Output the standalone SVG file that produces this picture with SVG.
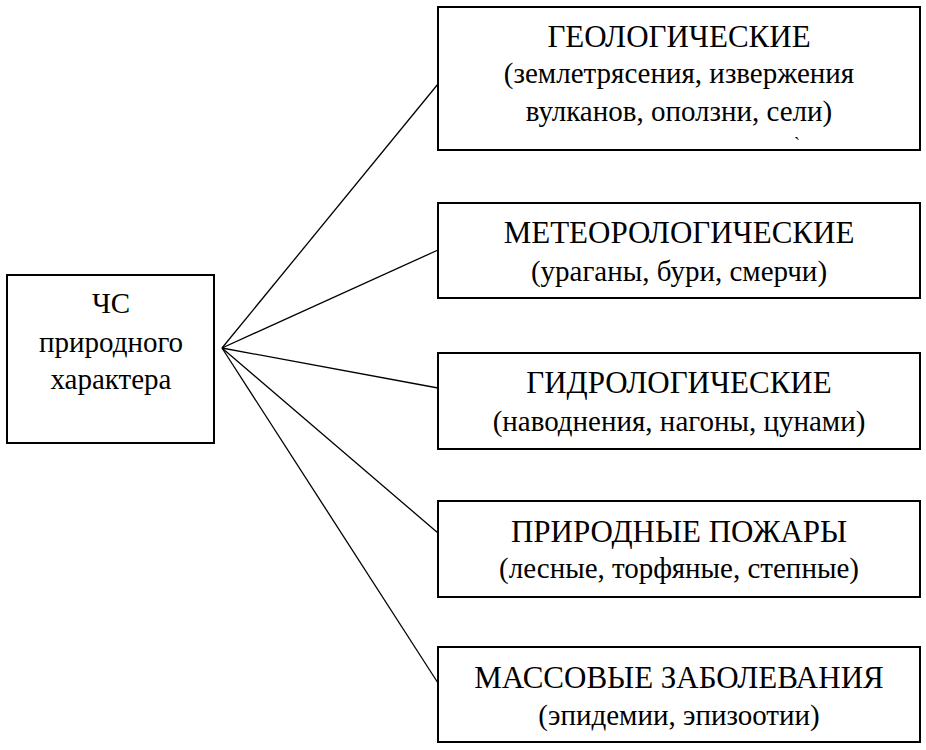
<svg xmlns="http://www.w3.org/2000/svg" width="926" height="750" viewBox="0 0 926 750">
<style>
.box{fill:#fff;stroke:#000;stroke-width:2}
.c{stroke:#000;stroke-width:1.3;fill:none}
.t{font-size:31px}
.s{font-size:29px}
</style>
<rect width="926" height="750" fill="#fff"/>
<g id="connectors">
<line class="c" x1="222" y1="348" x2="438" y2="84"/>
<line class="c" x1="222" y1="348" x2="438" y2="250"/>
<line class="c" x1="222" y1="348" x2="438" y2="388"/>
<line class="c" x1="222" y1="348" x2="438" y2="533"/>
<line class="c" x1="222" y1="348" x2="438" y2="683"/>
</g>
<g font-family="Liberation Serif, DejaVu Serif, serif" text-anchor="middle" fill="#000">
<g id="root">
<rect class="box" x="7" y="275" width="207" height="168"/>
<text class="s" x="111" y="313">ЧС</text>
<text class="s" x="111" y="352">природного</text>
<text class="s" x="111" y="389">характера</text>
</g>
<g id="geo">
<rect class="box" x="438" y="7" width="482" height="143"/>
<text class="t" x="679" y="47">ГЕОЛОГИЧЕСКИЕ</text>
<text class="s" x="679" y="83">(землетрясения, извержения</text>
<text class="s" x="679" y="121">вулканов, оползни, сели)</text>
<text font-size="18" x="797" y="150">`</text>
</g>
<g id="meteo">
<rect class="box" x="438" y="203" width="482" height="95"/>
<text class="t" x="679" y="243">МЕТЕОРОЛОГИЧЕСКИЕ</text>
<text class="s" x="679" y="281">(ураганы, бури, смерчи)</text>
</g>
<g id="hydro">
<rect class="box" x="438" y="353" width="482" height="96"/>
<text class="t" x="679" y="393">ГИДРОЛОГИЧЕСКИЕ</text>
<text class="s" x="679" y="431">(наводнения, нагоны, цунами)</text>
</g>
<g id="fires">
<rect class="box" x="438" y="501" width="482" height="96"/>
<text class="t" x="679" y="542">ПРИРОДНЫЕ ПОЖАРЫ</text>
<text class="s" x="679" y="578">(лесные, торфяные, степные)</text>
</g>
<g id="disease">
<rect class="box" x="438" y="647" width="482" height="95"/>
<text class="t" x="679" y="688">МАССОВЫЕ ЗАБОЛЕВАНИЯ</text>
<text class="s" x="679" y="725">(эпидемии, эпизоотии)</text>
</g>
</g>
</svg>
